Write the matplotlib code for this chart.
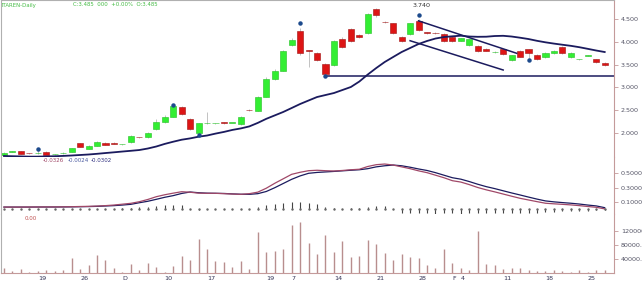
"""Gráfico diário ITAREN: candles + média, MACD e volume. Salva out.png."""

import matplotlib

matplotlib.use("Agg")
import matplotlib.pyplot as plt
import numpy as np

# --- dados (72 pregões) ---
opens = [1.51, 1.59, 1.605, 1.556, 1.56, 1.59, 1.53, 1.56, 1.585, 1.775,
         1.65, 1.72, 1.79, 1.79, 1.75, 1.80, 1.907, 1.905, 2.08, 2.235,
         2.36, 2.575, 2.30, 1.99, 2.21, 2.21, 2.24, 2.22, 2.19, 2.51,
         2.49, 2.80, 3.18, 3.36, 3.92, 4.24, 3.81, 3.75, 3.51, 3.50,
         4.055, 4.28, 4.155, 4.19, 4.72, 4.432, 4.405, 4.11, 4.17, 4.46,
         4.202, 4.192, 4.17, 4.10, 4.025, 3.92, 3.915, 3.85, 3.768, 3.835,
         3.60, 3.80, 3.835, 3.71, 3.66, 3.75, 3.88, 3.66, 3.615, 3.69,
         3.615, 3.535]
closes = [1.57, 1.592, 1.54, 1.555, 1.565, 1.52, 1.532, 1.565, 1.665, 1.70,
          1.72, 1.81, 1.745, 1.77, 1.752, 1.93, 1.903, 2.01, 2.24, 2.36,
          2.59, 2.41, 2.08, 2.21, 2.212, 2.212, 2.21, 2.222, 2.36, 2.495,
          2.80, 3.18, 3.36, 3.805, 4.04, 3.75, 3.805, 3.60, 3.29, 4.01,
          3.89, 4.01, 4.10, 4.61, 4.59, 4.428, 4.19, 4.025, 4.405, 4.26,
          4.198, 4.188, 4.01, 4.01, 4.075, 4.055, 3.805, 3.805, 3.77, 3.73,
          3.70, 3.67, 3.76, 3.616, 3.75, 3.805, 3.75, 3.76, 3.617, 3.692,
          3.557, 3.49]
highs = [1.58, 1.60, 1.615, 1.565, 1.62, 1.60, 1.54, 1.575, 1.68, 1.79,
         1.73, 1.83, 1.80, 1.80, 1.76, 1.95, 1.92, 2.03, 2.30, 2.40,
         2.61, 2.60, 2.33, 2.23, 2.47, 2.23, 2.25, 2.23, 2.38, 2.53,
         2.82, 3.22, 3.40, 3.83, 4.08, 4.30, 3.83, 3.78, 3.53, 4.03,
         4.10, 4.30, 4.17, 4.63, 4.74, 4.45, 4.42, 4.12, 4.42, 4.50,
         4.22, 4.21, 4.19, 4.12, 4.09, 4.07, 3.93, 3.87, 3.79, 3.85,
         3.72, 3.82, 3.85, 3.73, 3.77, 3.83, 3.90, 3.78, 3.63, 3.71,
         3.63, 3.55]
lows = [1.50, 1.58, 1.53, 1.545, 1.55, 1.51, 1.52, 1.55, 1.575, 1.69,
        1.64, 1.71, 1.735, 1.76, 1.74, 1.79, 1.89, 1.89, 2.07, 2.22,
        2.35, 2.40, 2.06, 1.97, 2.19, 2.20, 2.20, 2.21, 2.18, 2.48,
        2.48, 2.78, 3.17, 3.35, 3.90, 3.70, 3.45, 3.58, 3.25, 3.48,
        3.87, 3.99, 4.08, 4.17, 4.55, 4.41, 4.17, 4.00, 4.15, 4.24,
        4.18, 4.17, 3.99, 3.99, 4.01, 3.90, 3.78, 3.79, 3.75, 3.72,
        3.58, 3.66, 3.60, 3.60, 3.65, 3.74, 3.74, 3.65, 3.60, 3.68,
        3.54, 3.48]
moving_avg = [1.496, 1.491, 1.487, 1.482, 1.482, 1.487, 1.491, 1.498, 1.507, 1.518,
              1.529, 1.544, 1.561, 1.577, 1.594, 1.610, 1.627, 1.660, 1.704, 1.761,
              1.809, 1.853, 1.882, 1.919, 1.945, 1.987, 2.024, 2.068, 2.101, 2.145,
              2.222, 2.311, 2.386, 2.461, 2.548, 2.636, 2.713, 2.789, 2.833, 2.877,
              2.943, 3.009, 3.129, 3.283, 3.425, 3.557, 3.667, 3.776, 3.864, 3.952,
              4.018, 4.072, 4.105, 4.121, 4.134, 4.116, 4.110, 4.112, 4.127, 4.132,
              4.116, 4.090, 4.061, 4.022, 3.989, 3.961, 3.936, 3.912, 3.882, 3.846,
              3.809, 3.776]
volume = [12600, 4000, 11000, 3000, 4000, 8000, 5000, 8000, 41000, 11000,
          21000, 50000, 36000, 14000, 3000, 24000, 9000, 29000, 17000, 3000,
          20000, 47000, 36000, 96000, 67000, 33000, 30000, 15000, 33000, 10000,
          116000, 58000, 62000, 68000, 136000, 145000, 86000, 52000, 107000, 58000,
          91000, 45000, 48000, 92000, 81000, 56000, 36000, 53000, 46000, 43000,
          22000, 14000, 67000, 28000, 12500, 8000, 119000, 25000, 22000, 10000,
          13000, 13000, 8000, 5000, 4000, 8000, 3500, 3000, 8000, 3000,
          9000, 9000]
macd = [0.030, 0.030, 0.030, 0.031, 0.031, 0.032, 0.032, 0.033, 0.035, 0.038,
        0.040, 0.044, 0.050, 0.058, 0.070, 0.082, 0.104, 0.135, 0.173, 0.200,
        0.222, 0.242, 0.235, 0.222, 0.220, 0.220, 0.215, 0.210, 0.206, 0.215,
        0.236, 0.290, 0.358, 0.420, 0.482, 0.510, 0.532, 0.538, 0.532, 0.528,
        0.535, 0.545, 0.552, 0.590, 0.615, 0.624, 0.610, 0.585, 0.560, 0.530,
        0.505, 0.470, 0.435, 0.394, 0.375, 0.340, 0.300, 0.268, 0.240, 0.210,
        0.180, 0.151, 0.128, 0.105, 0.083, 0.075, 0.068, 0.060, 0.050, 0.038,
        0.027, 0.005]
signal = [0.030, 0.030, 0.030, 0.030, 0.031, 0.031, 0.031, 0.032, 0.033, 0.035,
          0.037, 0.040, 0.045, 0.050, 0.058, 0.068, 0.090, 0.110, 0.137, 0.165,
          0.188, 0.218, 0.238, 0.228, 0.222, 0.220, 0.218, 0.212, 0.207, 0.206,
          0.215, 0.245, 0.297, 0.355, 0.413, 0.460, 0.496, 0.508, 0.515, 0.522,
          0.530, 0.538, 0.545, 0.560, 0.585, 0.600, 0.610, 0.600, 0.580, 0.556,
          0.535, 0.505, 0.470, 0.435, 0.415, 0.382, 0.345, 0.312, 0.285, 0.255,
          0.225, 0.197, 0.168, 0.140, 0.115, 0.102, 0.092, 0.083, 0.072, 0.058,
          0.046, 0.022]
histogram = [0, 0, 0, 0, 0, 0, 0, 0, 0.005, 0.005,
             0.005, 0.005, 0.01, 0.01, 0.015, 0.02, 0.025, 0.035, 0.045, 0.06,
             0.065, 0.06, 0.0, -0.005, 0, 0, 0, 0, 0, 0.01,
             0.035, 0.06, 0.075, 0.09, 0.105, 0.095, 0.085, 0.07, 0.025, 0.015,
             0.01, 0.015, 0.02, 0.035, 0.05, 0.04, 0.0, -0.045, -0.05, -0.055,
             -0.055, -0.06, -0.055, -0.055, -0.06, -0.055, -0.055, -0.05, -0.055, -0.055,
             -0.05, -0.05, -0.045, -0.045, -0.04, -0.035, -0.03, -0.03, -0.025, -0.02,
             -0.015, -0.01]

# marcadores de topo/fundo (índice, preço)
pivot_idx = [4, 20, 23, 35, 38, 49, 62]
pivot_price = [1.64, 2.625, 1.96, 4.41, 3.25, 4.58, 3.60]
# linhas de tendência desenhadas (índice inicial/final, preço inicial/final)
channel_upper = ([49, 60.6], [4.46, 3.748])
channel_lower = ([48, 59], [4.024, 3.382])
support_start, support_level = 38, 3.25

date_labels = ["19", "26", "D", "10", "17", "19", "7", "14", "21", "28", "F", "4", "11", "18", "25"]
date_pos = [4, 9, 14, 19, 24, 31, 34, 39, 44, 49, 53, 54, 59, 64, 69]

GREEN, RED, NAVY, ROSY = "#33ee33", "#dd1515", "#1b1b5e", "#c49a9a"
W, H = 642, 283
FS = 4.6  # fonte pequena, como no gráfico original


def _style(ax, yticks, fmt) -> None:
    ax.set_facecolor("white")
    ax.yaxis.tick_right()
    ax.set_yticks(yticks)
    ax.set_yticklabels([fmt.format(t) for t in yticks])
    ax.tick_params(axis="y", labelsize=FS, labelcolor="#555566", color=ROSY, length=3, width=0.6, pad=2)
    ax.set_xlim(-0.35, 72.1)
    ax.set_xticks([])
    for side in ("top", "bottom"):
        ax.spines[side].set_visible(False)
    ax.spines["right"].set_color(ROSY)
    ax.spines["left"].set_color("#b0b0b0")
    for sp in ax.spines.values():
        sp.set_linewidth(0.8)


def main() -> None:
    x = np.arange(len(opens))
    o, c = np.array(opens), np.array(closes)
    fig = plt.figure(figsize=(W / 100, H / 100), dpi=100)
    left, width = 1 / W, 613 / W
    ax = fig.add_axes([left, 1 - 157 / H, width, 157 / H])
    ax_m = fig.add_axes([left, 1 - 214 / H, width, 57 / H])
    ax_v = fig.add_axes([left, 1 - 272.7 / H, width, 58.7 / H])

    # candles
    up = c >= o
    cols = np.where(up, GREEN, RED)
    edges = np.where(up, "#22c022", "#a01010")
    ax.vlines(x, lows, highs, color="#b8b8b8", lw=0.6, zorder=1)
    ax.bar(x, np.maximum(np.abs(c - o), 0.012), bottom=np.minimum(o, c), width=0.72,
           color=cols, edgecolor=edges, linewidth=0.4, zorder=2)
    ax.plot(x, moving_avg, color=NAVY, lw=1.3, zorder=3)
    ax.plot(*channel_upper, color=NAVY, lw=1.1)
    ax.plot(*channel_lower, color=NAVY, lw=1.1)
    ax.hlines(support_level, support_start, 72.1, color=NAVY, lw=1.1)
    ax.plot(pivot_idx, pivot_price, "o", ms=2.2, color="#1c4a8c", zorder=4)
    ax.text(49.3, 4.807, "3.740", fontsize=FS, color="#333333", ha="center", va="center")
    ax.set_ylim(1.474, 4.917)
    _style(ax, [2.0, 2.5, 3.0, 3.5, 4.0, 4.5], "{:.3f}")
    ax.spines["top"].set_visible(True)
    ax.spines["top"].set_color("#b0b0b0")

    # MACD
    ax_m.plot(x, signal, color=NAVY, lw=0.9)
    ax_m.plot(x, macd, color="#a04868", lw=0.9)
    ax_m.vlines(x, 0, histogram, color="#444444", lw=0.8)
    ax_m.plot(x, np.zeros_like(x, dtype=float), "s", ms=0.7, color="#666666")
    ax_m.set_ylim(-0.0655, 0.721)
    _style(ax_m, [0.1, 0.3, 0.5], "{:.4f}")
    for px, txt, col in [(43, "-0.0326", "#a04868"), (68, "-0.0024", "#4a5aa0"), (91, "-0.0302", "#303080")]:
        fig.text(px / W, 1 - 160 / H, txt, fontsize=4.0, color=col, va="center")

    # volume
    ax_v.vlines(x, 0, volume, color="#b88e8e", lw=1.0)
    ax_v.set_ylim(0, 167700)
    _style(ax_v, [40000, 80000, 120000], "{:.2f}")
    fig.text(25 / W, 1 - 218 / H, "0.00", fontsize=4.0, color="#c05050", va="center")
    ax_v.spines["bottom"].set_visible(True)
    ax_v.spines["bottom"].set_color(ROSY)
    ax_v.set_xticks(date_pos)
    ax_v.set_xticklabels(date_labels, ha="left")
    ax_v.tick_params(axis="x", labelsize=FS, labelcolor="#333355", length=0, pad=2.5)

    fig.text(2 / W, 1 - 5 / H, "ITAREN-Daily", fontsize=3.9, color="#44bb44", va="center")
    fig.text(73 / W, 1 - 5 / H, "C:3.485  000  +0.00%  O:3.485", fontsize=3.9, color="#44bb44", va="center")

    fig.savefig("out.png", dpi=100)
    plt.close(fig)


if __name__ == "__main__":
    main()
